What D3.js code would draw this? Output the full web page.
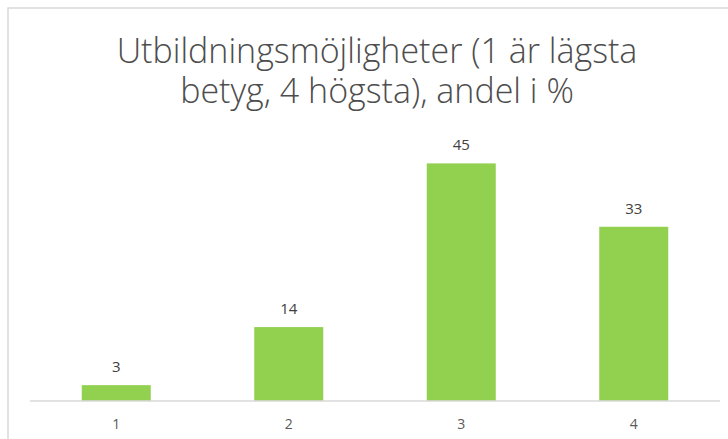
<!DOCTYPE html>
<html>
<head>
<meta charset="utf-8">
<script src="https://cdn.jsdelivr.net/npm/d3@7"></script>
<style>
  body { margin: 0; background: #fff; }
  svg { display: block; font-family: "Open Sans", sans-serif; }
</style>
</head>
<body>
<div class="chart"></div>
<script>
var categories = ["1", "2", "3", "4"];
var values = [3, 14, 45, 33];
var titleLines = ["Utbildningsmöjligheter (1 är lägsta", "betyg, 4 högsta), andel i %"];

var width = 728,
    height = 439;

var margin = {top: 137, left: 30, right: 8, bottom: 38};

var svg = d3.select(".chart").append("svg")
    .attr("width", width)
    .attr("height", height);

// chart frame (runs off the right and bottom edge)
svg.append("rect")
    .attr("x", 8).attr("y", 8)
    .attr("width", width + 20).attr("height", height + 20)
    .attr("fill", "#fff")
    .attr("stroke", "#d9d9d9")
    .attr("stroke-width", 1.5);

var x = d3.scaleBand()
    .domain(categories)
    .range([margin.left, width - margin.right])
    .paddingInner(0.6)
    .paddingOuter(0.3);

var y = d3.scaleLinear()
    .domain([0, 50])
    .range([height - margin.bottom, margin.top]);

// title
svg.append("g").selectAll("text")
    .data(titleLines)
    .enter().append("text")
    .attr("x", 377)
    .attr("y", function(d, i) { return 63 + i * 40; })
    .attr("text-anchor", "middle")
    .attr("fill", "#4d4d4d")
    .style("font-size", "34px")
    .style("font-weight", 300)
    .text(function(d) { return d; });

// bars
svg.append("g").selectAll("rect")
    .data(values)
    .enter().append("rect")
    .attr("x", function(d, i) { return x(categories[i]); })
    .attr("y", function(d) { return y(d); })
    .attr("width", x.bandwidth())
    .attr("height", function(d) { return y(0) - y(d); })
    .attr("fill", "#92d050");

// value labels
svg.append("g").selectAll("text")
    .data(values)
    .enter().append("text")
    .attr("x", function(d, i) { return x(categories[i]) + x.bandwidth() / 2; })
    .attr("y", function(d) { return y(d) - 13; })
    .attr("text-anchor", "middle")
    .attr("fill", "#404040")
    .style("font-size", "15px")
    .text(function(d) { return d; });

// x axis
var xAxis = svg.append("g")
    .attr("transform", "translate(0," + y(0) + ")")
    .call(d3.axisBottom(x).tickSize(0).tickPadding(18));
xAxis.select(".domain").attr("stroke", "#d9d9d9").attr("stroke-width", 1.5)
    .attr("d", "M" + margin.left + ",0H" + (width - margin.right));
xAxis.selectAll("text")
    .attr("fill", "#595959")
    .style("font-size", "14px")
    .style("font-family", "Open Sans, sans-serif");
</script>
</body>
</html>
